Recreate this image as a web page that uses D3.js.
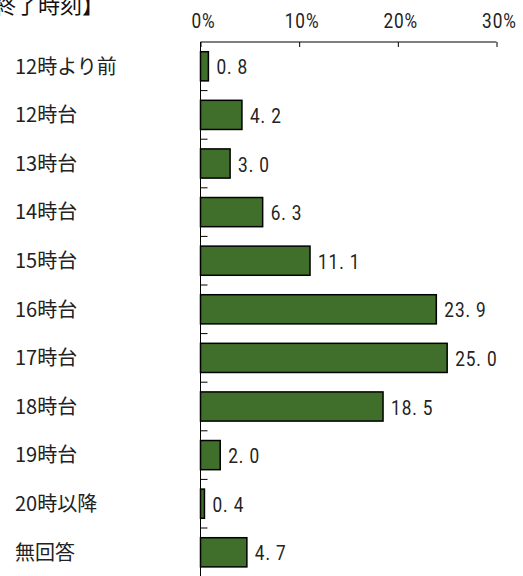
<!DOCTYPE html>
<html>
<head>
<meta charset="utf-8">
<script src="https://cdn.jsdelivr.net/npm/d3@7"></script>
<style>
  html, body { margin: 0; padding: 0; background: #fff; }
  svg { display: block; }
</style>
</head>
<body>
<script>
// Finishing-time distribution (percent of respondents)
const categories = ["12時より前", "12時台", "13時台", "14時台", "15時台", "16時台", "17時台", "18時台", "19時台", "20時以降", "無回答"];
const values = [0.8, 4.2, 3.0, 6.3, 11.1, 23.9, 25.0, 18.5, 2.0, 0.4, 4.7];
const tickValues = [0, 10, 20, 30];
const titleText = "【終了時刻】";

const W = 523, H = 576;
const svg = d3.select("body").append("svg").attr("width", W).attr("height", H);

const x = d3.scaleLinear().domain([0, 30]).range([200.5, 496.5]);
const y = d3.scaleBand().domain(categories).range([42, 42 + 48.6 * categories.length])
  .paddingInner(0.4).paddingOuter(0.2);

const numFont = "Roboto, 'Liberation Sans', sans-serif";
const jpFont = "'Noto Sans CJK JP', 'Noto Sans', sans-serif";

// Numerals are set on a fixed character grid, narrowed horizontally
const squeeze = 0.82;
const pitch = 10.6;
const cellX = s => d3.range(s.length).map(i => (i * pitch / squeeze).toFixed(2)).join(" ");

// Title (runs off the top-left edge)
svg.append("text")
  .attr("x", 104).attr("y", 13)
  .attr("text-anchor", "end")
  .attr("font-family", jpFont)
  .attr("font-size", 22)
  .attr("fill", "#111")
  .text(titleText);

// Bars
svg.append("g").selectAll("rect")
  .data(values)
  .join("rect")
  .attr("x", x(0))
  .attr("y", (d, i) => y(categories[i]))
  .attr("width", d => x(d) - x(0))
  .attr("height", y.bandwidth())
  .attr("fill", "#3f6f2a")
  .attr("stroke", "#000")
  .attr("stroke-width", 1.5);

// Value labels
svg.append("g").selectAll("text")
  .data(values)
  .join("text")
  .attr("transform", (d, i) => `translate(${x(d) + 8},${y(categories[i]) + y.bandwidth() / 2 + 8}) scale(${squeeze},1)`)
  .attr("x", d => cellX(d.toFixed(1)))
  .attr("font-family", numFont)
  .attr("font-size", 21)
  .attr("fill", "#222")
  .text(d => d.toFixed(1));

// Top axis
const topAxis = svg.append("g").attr("transform", "translate(0,42)");
topAxis.call(d3.axisBottom(x).tickValues(tickValues).tickSize(5).tickFormat(""))
  .call(g => g.select(".domain").attr("d", `M${x(0)},0H${x(30)}`).attr("stroke", "#000"))
  .call(g => g.selectAll(".tick line").attr("stroke", "#000"));

// Tick labels above the axis
svg.append("g").selectAll("text")
  .data(tickValues)
  .join("text")
  .attr("transform", d => {
    const s = d + "%";
    return `translate(${x(d) + 1 - s.length * pitch / 2 + 0.5},28) scale(${squeeze},1)`;
  })
  .attr("x", d => cellX(d + "%"))
  .attr("font-family", numFont)
  .attr("font-size", 21)
  .attr("fill", "#222")
  .text(d => d + "%");

// Vertical category axis with ticks at band boundaries
const step = y.step();
const boundaries = d3.range(1, categories.length + 1).map(i => y.range()[0] + i * step);
const leftAxis = svg.append("g");
leftAxis.append("line")
  .attr("x1", x(0)).attr("x2", x(0))
  .attr("y1", 42).attr("y2", H + 2)
  .attr("stroke", "#000");
leftAxis.selectAll("line.tk")
  .data(boundaries)
  .join("line")
  .attr("class", "tk")
  .attr("x1", x(0)).attr("x2", x(0) + 7)
  .attr("y1", d => d).attr("y2", d => d)
  .attr("stroke", "#000");

// Category labels
svg.append("g").selectAll("text")
  .data(categories)
  .join("text")
  .attr("x", 15)
  .attr("y", d => y(d) + y.bandwidth() / 2)
  .attr("dy", "0.36em")
  .attr("font-family", jpFont)
  .attr("font-size", 20)
  .attr("fill", "#222")
  .text(d => d);
</script>
</body>
</html>
